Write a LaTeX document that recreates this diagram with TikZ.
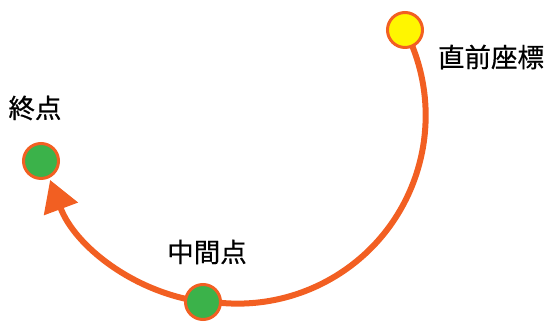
\documentclass[tikz,border=0pt]{standalone}
\usepackage{fontspec}
\newfontfamily\jp[FakeBold=0.6]{Noto Sans CJK JP}
\usetikzlibrary{arrows.meta}
\definecolor{lineor}{RGB}{242,95,34}
\definecolor{dotgreen}{RGB}{59,178,74}
\definecolor{dotyellow}{RGB}{255,246,0}
\begin{document}
\begin{tikzpicture}[x=1pt,y=1pt,
  pathline/.style={draw=lineor, line width=6pt},
  dot/.style={circle, draw=lineor, line width=3pt, minimum size=35pt, inner sep=0pt},
  lbl/.style={font=\jp\fontsize{26.5}{30}\selectfont, text=black, inner sep=0pt}]
\useasboundingbox (0,0) rectangle (549,328);
\coordinate (prev) at (405,298);
\coordinate (midp) at (203,26);
\coordinate (endp) at (41,167);
% arcs
\draw[pathline] (prev) arc[start angle=27.1, end angle=-99.8, radius=188];
\draw[pathline, -{Triangle[length=31pt, width=35pt]}] (midp) arc[start angle=-97.7, end angle=-159.5, radius=190.5];
% dots
\node[dot, fill=dotyellow] (prevdot) at (prev) {};
\node[dot, fill=dotgreen] (middot) at (midp) {};
\node[dot, fill=dotgreen] (enddot) at (endp) {};
% labels
\node[lbl] (prevlbl) at (491,271) {直前座標};
\node[lbl] (endlbl) at (35,220) {終点};
\node[lbl] (midlbl) at (207,76) {中間点};
\end{tikzpicture}
\end{document}
